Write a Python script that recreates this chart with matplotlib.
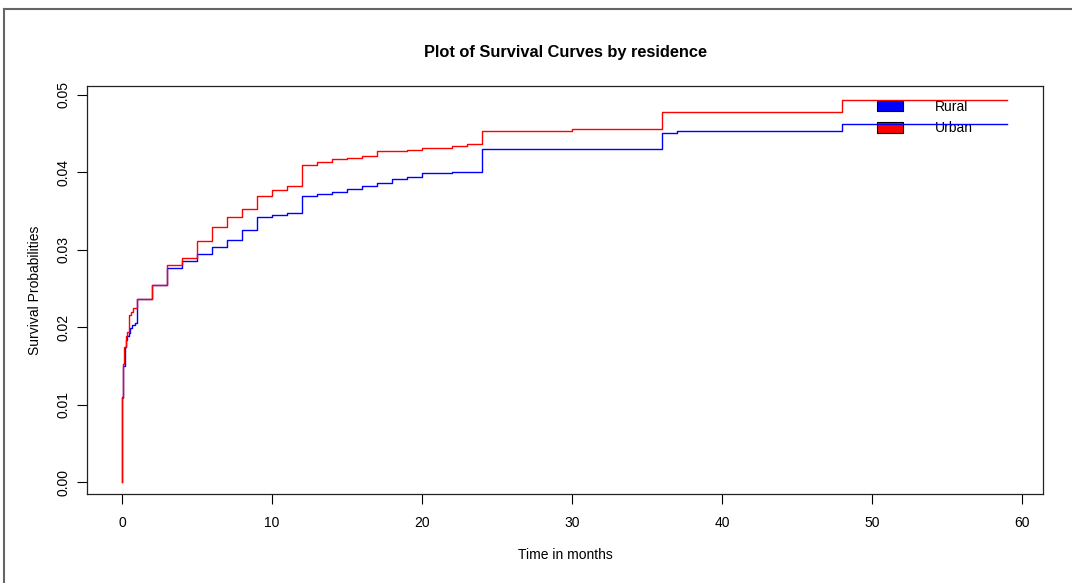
import matplotlib
matplotlib.use("Agg")
import matplotlib.pyplot as plt
from matplotlib.lines import Line2D
from matplotlib.patches import Patch

plt.rcParams["font.family"] = ["Liberation Sans", "DejaVu Sans"]

# Kaplan-Meier style step curves (time in months, probability)
rural_t = [0, 0.03, 0.1, 0.2, 0.27, 0.35, 0.45, 0.55, 0.7, 0.85, 1, 2, 3, 4, 5, 6, 7, 8, 9, 10,
           11, 12, 13, 14, 15, 16, 17, 18, 19, 20, 22, 24, 36, 37, 48, 59]
rural_p = [0, 0.0110, 0.0150, 0.0175, 0.0183, 0.0188, 0.0193, 0.0199, 0.0203, 0.0206, 0.0236,
           0.0255, 0.0276, 0.0286, 0.0295, 0.0303, 0.0313, 0.0326, 0.0342, 0.0345, 0.0348,
           0.0370, 0.0372, 0.0375, 0.0379, 0.0382, 0.0386, 0.0392, 0.0394, 0.0399, 0.0401,
           0.0430, 0.0451, 0.0453, 0.0463, 0.0463]

urban_t = [0, 0.02, 0.07, 0.15, 0.25, 0.35, 0.47, 0.6, 0.73, 1, 2, 3, 4, 5, 6, 7, 8, 9, 10, 11,
           12, 13, 14, 15, 16, 17, 19, 20, 22, 23, 24, 30, 36, 48, 59]
urban_p = [0, 0.0108, 0.0153, 0.0175, 0.0188, 0.0194, 0.0216, 0.0220, 0.0225, 0.0236, 0.0255,
           0.0280, 0.0290, 0.0311, 0.0329, 0.0343, 0.0353, 0.0369, 0.0377, 0.0383, 0.0410,
           0.0413, 0.0417, 0.0419, 0.0421, 0.0427, 0.0429, 0.0432, 0.0434, 0.0437, 0.0453,
           0.0456, 0.0478, 0.0493, 0.0493]

groups = ["Rural", "Urban"]
colors = ["blue", "red"]
x_ticks = [0, 10, 20, 30, 40, 50, 60]
y_ticks = [0.00, 0.01, 0.02, 0.03, 0.04, 0.05]

fig = plt.figure(figsize=(10.72, 5.83), dpi=100)
ax = fig.add_axes([87 / 1072, 89 / 583, 956 / 1072, 408 / 583])

ax.step(rural_t, rural_p, where="post", color=colors[0], lw=1.0)
ax.step(urban_t, urban_p, where="post", color=colors[1], lw=1.0)

ax.set_xlim(-2.33, 61.4)
ax.set_ylim(-0.00155, 0.05116)
ax.set_xticks(x_ticks)
ax.set_xticklabels([str(v) for v in x_ticks])
ax.set_yticks(y_ticks)
ax.set_yticklabels([f"{v:.2f}" for v in y_ticks], rotation=90, va="center")
ax.tick_params(direction="out", length=7, width=0.8, labelsize=10)
ax.tick_params(axis="x", pad=9)
ax.tick_params(axis="y", pad=5)

for s in ax.spines.values():
    s.set_linewidth(0.9)
    s.set_color("#222222")

ax.set_title("Plot of Survival Curves by residence", fontsize=11.8, fontweight="bold", pad=21)
ax.set_xlabel("Time in months", fontsize=10, labelpad=13)
ax.set_ylabel("Survival Probabilities", fontsize=10, labelpad=10)

handles = [Patch(facecolor=c, edgecolor="black", lw=0.8) for c in colors]
leg = ax.legend(handles, groups, loc="upper left", bbox_to_anchor=(0.8133, 0.997),
                frameon=False, fontsize=10, handlelength=1.85, handleheight=0.8,
                handletextpad=2.3, labelspacing=0.55)
leg.set_zorder(1)

# outer frame
fig.add_artist(Line2D([4 / 1072, 1.01], [1 - 9 / 583, 1 - 9 / 583], color="#666666", lw=1.5))
fig.add_artist(Line2D([4 / 1072, 4 / 1072], [-0.01, 1 - 9 / 583], color="#666666", lw=1.5))

fig.savefig("out.png", dpi=100)
